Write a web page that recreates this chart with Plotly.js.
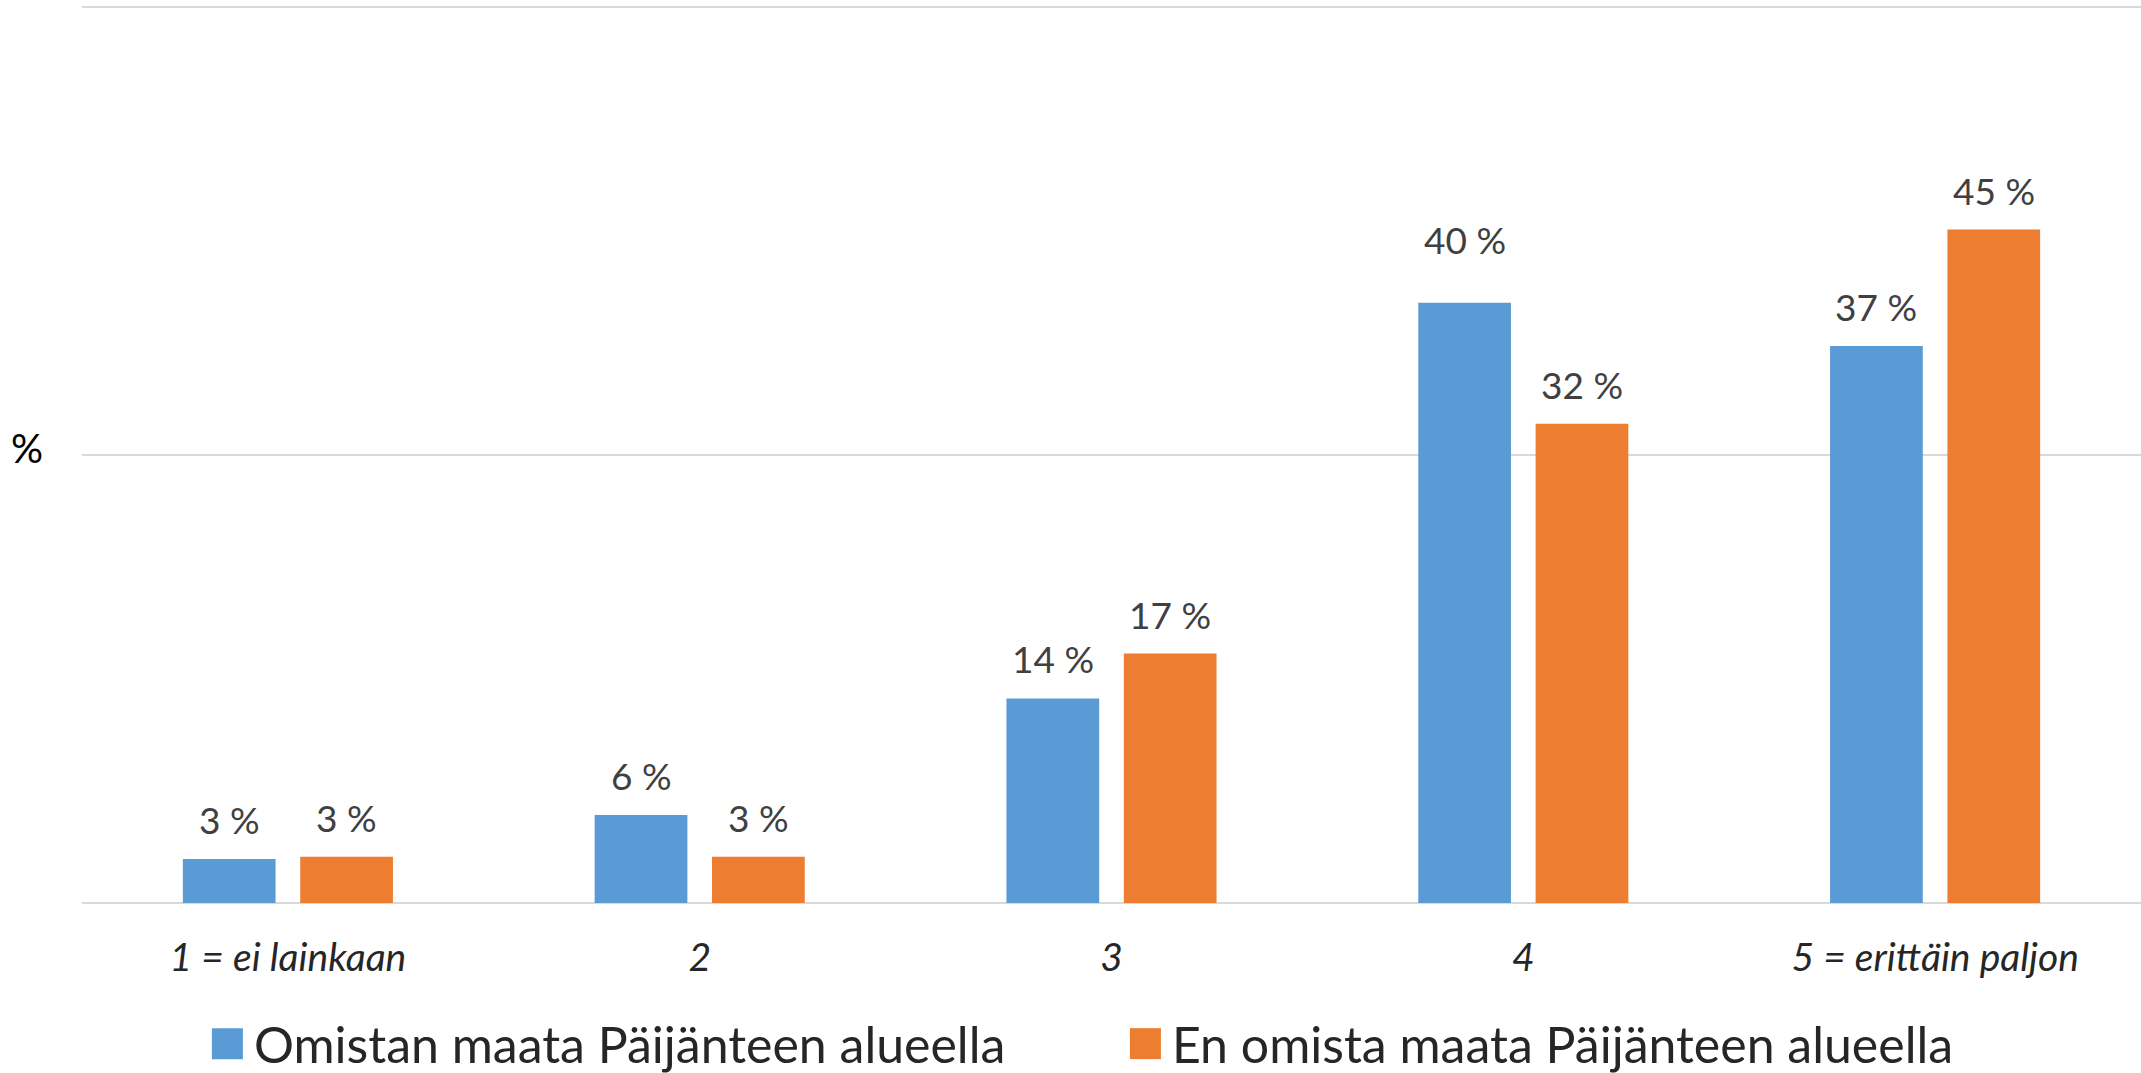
<!DOCTYPE html>
<html>
<head>
<meta charset="utf-8">
<script src="https://cdn.plot.ly/plotly-3.0.1.min.js"></script>
<style>html,body{margin:0;padding:0;background:#fff;}#chart{width:2141px;height:1073px;}</style>
</head>
<body>
<div id="chart"></div>
<script>
const categories = ['1 = ei lainkaan', '2', '3', '4', '5 = erittäin paljon'];
const seriesNames = ['Omistan maata Päijänteen alueella', 'En omista maata Päijänteen alueella'];
const ownValues = [2.95, 5.9, 13.7, 40.2, 37.3];
const notOwnValues = [3.1, 3.1, 16.7, 32.1, 45.1];
const ownLabels = ['3 %', '6 %', '14 %', '40 %', '37 %'];
const notOwnLabels = ['3 %', '3 %', '17 %', '32 %', '45 %'];
const yTicks = [0, 30, 60];
const yAxisTitle = '%';

const FONT = "Lato, 'Open Sans', sans-serif";
const BARGAP = 0.43;
const slotOffset = (1 - BARGAP) / 4;

function build() {
  const traces = [
    {type: 'bar', name: seriesNames[0], x: categories, y: ownValues,
     marker: {color: '#5B9BD5'}, hoverinfo: 'skip'},
    {type: 'bar', name: seriesNames[1], x: categories, y: notOwnValues,
     marker: {color: '#ED7D31'}, hoverinfo: 'skip'}
  ];

  const annotations = [];
  [[ownValues, ownLabels, -slotOffset, 0], [notOwnValues, notOwnLabels, slotOffset, 1]].forEach(([vals, labs, off, s]) => {
    vals.forEach((v, i) => {
      // the label of the tallest blue bar sits higher in the original
      const raised = (s === 0 && v === Math.max(...ownValues));
      annotations.push({
        x: i + off, y: v, xref: 'x', yref: 'y', text: labs[i], showarrow: false,
        xanchor: 'center', yanchor: 'bottom', yshift: raised ? 39 : 15,
        font: {family: FONT, size: 37, color: '#404040'}
      });
    });
  });
  annotations.push({
    x: 0, y: 0.5, xref: 'paper', yref: 'paper', text: yAxisTitle, showarrow: false,
    xanchor: 'center', yanchor: 'middle', xshift: -55, yshift: 7,
    font: {family: FONT, size: 40, color: '#000000'}
  });

  const layout = {
    width: 2141, height: 1073,
    margin: {l: 82, r: 0, t: 4, b: 167, autoexpand: false},
    paper_bgcolor: '#ffffff', plot_bgcolor: '#ffffff',
    barmode: 'group', bargap: BARGAP, bargroupgap: 0.21,
    font: {family: FONT, color: '#262626'},
    xaxis: {
      type: 'category', showline: false, ticks: '', showgrid: false, zeroline: false,
      tickfont: {family: FONT, size: 39, color: '#262626', style: 'italic'},
      ticklabelstandoff: 25
    },
    yaxis: {
      range: [-0.2, 60.2], tickvals: yTicks, showticklabels: false, ticks: '',
      showgrid: true, gridcolor: '#D9D9D9', gridwidth: 2, zeroline: false, showline: false
    },
    showlegend: true,
    legend: {
      orientation: 'h', x: 0.5036, xanchor: 'center', y: -0.1526, yanchor: 'middle',
      font: {family: FONT, size: 50, color: '#262626'}, itemwidth: 43,
      entrywidth: 860, entrywidthmode: 'pixels',
      traceorder: 'normal', bgcolor: 'rgba(0,0,0,0)', itemclick: false
    },
    annotations: annotations
  };

  Plotly.newPlot('chart', traces, layout, {displayModeBar: false, staticPlot: true}).then(() => {
    document.querySelectorAll('#chart .legendpoints path').forEach(p => {
      p.setAttribute('d', 'M15.5,15.5H-15.5V-15.5H15.5Z');
    });
  });
}

const fontLoads = [
  document.fonts.load("50px Lato"),
  document.fonts.load("italic 39px Lato"),
  document.fonts.load("37px Lato")
];
Promise.all(fontLoads).then(build, build);
</script>
</body>
</html>
